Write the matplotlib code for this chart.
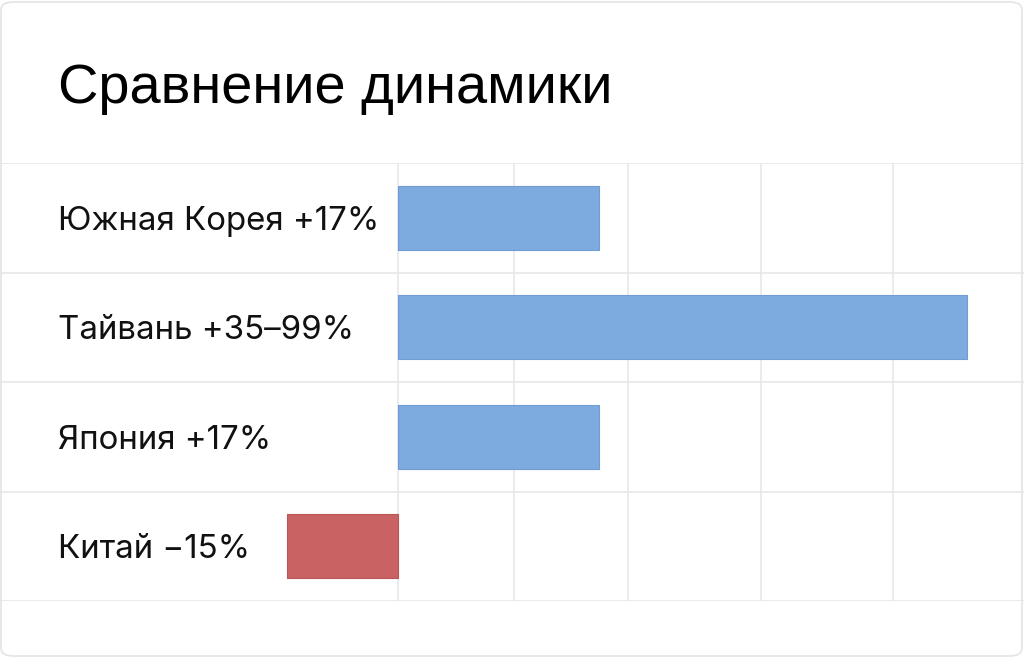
import matplotlib
matplotlib.use("Agg")
import matplotlib.pyplot as plt
import matplotlib.transforms as mtransforms
from matplotlib.patches import FancyBboxPatch

title = "Сравнение динамики"
labels = ["Южная Корея +17%", "Тайвань +35–99%", "Япония +17%", "Китай −15%"]
values = [17, 48.3, 17, -9.5]
colors = ["#7EABDF", "#7EABDF", "#7EABDF", "#C96262"]
grid_x = [0, 9.8, 19.5, 30.8, 42.0]

W, H = 1024, 657
fig = plt.figure(figsize=(W / 100, H / 100), dpi=100)
fig.patch.set_facecolor("white")

card = FancyBboxPatch((1 / W, 1 / H), 1 - 3 / W, 1 - 3 / H,
                      boxstyle="round,pad=0,rounding_size=0.012",
                      transform=fig.transFigure, facecolor="white",
                      edgecolor="#E2E4E6", linewidth=1.2, zorder=-5)
fig.patches.append(card)

ax = fig.add_axes([0, (H - 601) / H, 1, (601 - 163) / H])
ax.set_facecolor("none")
scale = 200 / 17.0  # px per unit
ax.set_xlim(-398 / scale, (1023 - 398) / scale)
ax.set_ylim(3.5, -0.5)
for s in ax.spines.values():
    s.set_visible(False)
ax.set_xticks([])
ax.set_yticks([])

for y in [-0.5, 0.5, 1.5, 2.5, 3.5]:
    ax.axhline(y, color="#E4E6E8", linewidth=1.1, zorder=1)
for gx in grid_x:
    ax.plot([gx, gx], [-0.5, 3.5], color="#E4E6E8", linewidth=1.1, zorder=1)

ax.barh(range(len(values)), values, height=0.58, color=colors,
        edgecolor=["#6F9CD2", "#6F9CD2", "#6F9CD2", "#B85555"],
        linewidth=0.8, zorder=3)

trans = mtransforms.blended_transform_factory(ax.transAxes, ax.transData)
for i, lab in enumerate(labels):
    ax.text(58 / W, i, lab, transform=trans, ha="left", va="center_baseline",
            fontsize=23.8, family=["Inter", "DejaVu Sans"], color="#111111")

fig.text(58 / W, 1 - 103 / H, title, ha="left", va="baseline",
         fontsize=40.3, family=["Liberation Sans", "DejaVu Sans"], color="#000000")

fig.savefig("out.png", dpi=100)
